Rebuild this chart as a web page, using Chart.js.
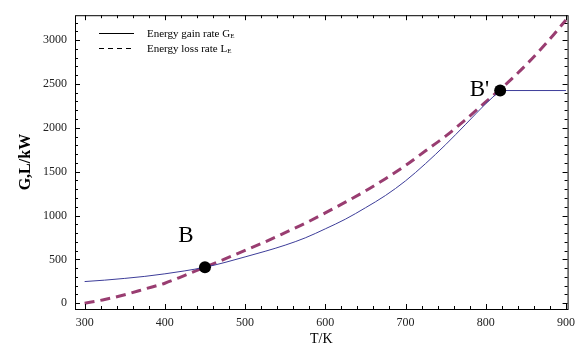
<!DOCTYPE html>
<html>
<head>
<meta charset="utf-8">
<script src="https://cdn.jsdelivr.net/npm/chart.js@4.4.1/dist/chart.umd.min.js"></script>
<style>
  html, body { margin: 0; padding: 0; background: #fff; }
  #wrap { width: 582px; height: 348px; }
</style>
</head>
<body>
<div id="wrap"><canvas id="chart" width="582" height="348"></canvas></div>
<script>
// temperatures (K) and rates (kW)
const tempGrid = [300, 325, 350, 375, 400, 425, 450, 475, 500, 525, 550, 575, 600,
                  625, 650, 675, 700, 725, 750, 775, 800, 825, 850, 875, 900];
const lossRate = [0, 42, 97, 162, 228, 318, 410, 505, 602, 700, 805, 912, 1030,
                  1152, 1280, 1420, 1570, 1738, 1905, 2095, 2295, 2495, 2715, 2960, 3230];

const gainTemps = [300, 325, 350, 375, 400, 425, 450, 475, 500, 525, 550, 575, 600,
                   625, 650, 675, 700, 725, 750, 775, 800, 818];
const gainRate = [247, 263, 283, 306, 335, 369, 410, 465, 528, 592, 662, 745, 848,
                  958, 1088, 1228, 1395, 1592, 1808, 2040, 2275, 2425];

const plateauTemps = [818, 900];
const plateauRate = [2425, 2425];

const pointNames = ["B", "B'"];
const pointTemps = [450, 818];
const pointRates = [410, 2425];

const xMajor = [300, 400, 500, 600, 700, 800, 900];
const yMajor = [0, 500, 1000, 1500, 2000, 2500, 3000];

const xMinor = [];
for (let t = 300; t <= 900; t += 20) xMinor.push(t);
const yMinor = [];
for (let v = 0; v <= 3200; v += 100) yMinor.push(v);

const serif = "'Liberation Serif', 'DejaVu Serif', serif";
const gainColor = "#3d3d99";
const lossColor = "#993d71";

const toXY = (xs, ys) => xs.map((x, i) => ({ x: x, y: ys[i] }));

// frame with inward ticks, legend and point labels
const framePlugin = {
  id: "frame",
  afterDraw(chart) {
    const ctx = chart.ctx;
    const a = chart.chartArea;
    const xs = chart.scales.x, ys = chart.scales.y;
    ctx.save();
    ctx.strokeStyle = "#000";
    ctx.lineWidth = 1;
    ctx.strokeRect(a.left + 0.5, a.top + 0.5, a.right - a.left, a.bottom - a.top);

    ctx.beginPath();
    xMinor.forEach(t => {
      const px = Math.round(xs.getPixelForValue(t)) + 0.5;
      const len = xMajor.includes(t) ? 5 : 3;
      ctx.moveTo(px, a.bottom); ctx.lineTo(px, a.bottom - len);
      ctx.moveTo(px, a.top); ctx.lineTo(px, a.top + len);
    });
    yMinor.forEach(v => {
      const py = Math.round(ys.getPixelForValue(v)) + 0.5;
      const len = yMajor.includes(v) ? 5 : 3;
      ctx.moveTo(a.left, py); ctx.lineTo(a.left + len, py);
      ctx.moveTo(a.right, py); ctx.lineTo(a.right - len, py);
    });
    ctx.stroke();

    // legend
    ctx.lineWidth = 1.2;
    ctx.beginPath();
    ctx.moveTo(99, 33.5); ctx.lineTo(134, 33.5);
    ctx.stroke();
    ctx.setLineDash([5, 4]);
    ctx.beginPath();
    ctx.moveTo(99, 48.5); ctx.lineTo(134, 48.5);
    ctx.stroke();
    ctx.setLineDash([]);

    ctx.fillStyle = "#000";
    ctx.textBaseline = "alphabetic";
    ctx.textAlign = "left";
    const legendRow = (text, sub, y) => {
      ctx.font = "11px " + serif;
      ctx.fillText(text, 147, y);
      const w = ctx.measureText(text).width;
      ctx.font = "7px " + serif;
      ctx.fillText(sub, 147 + w, y + 1);
    };
    legendRow("Energy gain rate G", "E", 37);
    legendRow("Energy loss rate L", "E", 52);

    // point labels
    ctx.font = "23px " + serif;
    ctx.textAlign = "center";
    ctx.textBaseline = "middle";
    ctx.fillText(pointNames[0], xs.getPixelForValue(pointTemps[0]) - 19, ys.getPixelForValue(pointRates[0]) - 31);
    ctx.textAlign = "right";
    ctx.fillText(pointNames[1], xs.getPixelForValue(pointTemps[1]) - 11, ys.getPixelForValue(pointRates[1]) - 1);
    ctx.restore();
  }
};

new Chart(document.getElementById("chart"), {
  type: "line",
  data: {
    datasets: [
      {
        label: "points",
        data: toXY(pointTemps, pointRates),
        showLine: false,
        pointRadius: 6,
        pointBackgroundColor: "#000",
        pointBorderColor: "#000",
        borderWidth: 0
      },
      {
        label: "Energy gain rate",
        data: toXY(gainTemps, gainRate),
        borderColor: gainColor,
        borderWidth: 1,
        pointRadius: 0,
        cubicInterpolationMode: "monotone"
      },
      {
        label: "plateau",
        data: toXY(plateauTemps, plateauRate),
        borderColor: gainColor,
        borderWidth: 1,
        pointRadius: 0
      },
      {
        label: "Energy loss rate",
        data: toXY(tempGrid, lossRate),
        borderColor: lossColor,
        borderWidth: 3,
        borderDash: [10, 6],
        pointRadius: 0,
        cubicInterpolationMode: "monotone"
      }
    ]
  },
  options: {
    responsive: false,
    devicePixelRatio: 1,
    animation: false,
    layout: { padding: { top: 6, right: 10, left: 0, bottom: 0 } },
    plugins: { legend: { display: false }, tooltip: { enabled: false } },
    scales: {
      x: {
        type: "linear",
        min: 288,
        max: 902,
        grid: { display: false, drawTicks: false },
        border: { display: false },
        afterBuildTicks: s => { s.ticks = xMajor.map(v => ({ value: v })); },
        afterFit: s => { s.height = 39; },
        ticks: { color: "#222", padding: 7, maxRotation: 0, font: { family: serif, size: 12 }, callback: v => String(v) },
        title: { display: true, text: "T/K", color: "#000", padding: 0, font: { family: serif, size: 14 } }
      },
      y: {
        type: "linear",
        min: -66,
        max: 3284,
        grid: { display: false, drawTicks: false },
        border: { display: false },
        afterBuildTicks: s => { s.ticks = yMajor.map(v => ({ value: v })); },
        afterFit: s => { s.width = 75; },
        ticks: { color: "#222", padding: 8, font: { family: serif, size: 12 }, callback: v => String(v) },
        title: { display: true, text: "G,L/kW", color: "#000", padding: { top: 16, bottom: 0 }, font: { family: serif, size: 16, weight: "bold" } }
      }
    }
  },
  plugins: [framePlugin]
});
</script>
</body>
</html>
